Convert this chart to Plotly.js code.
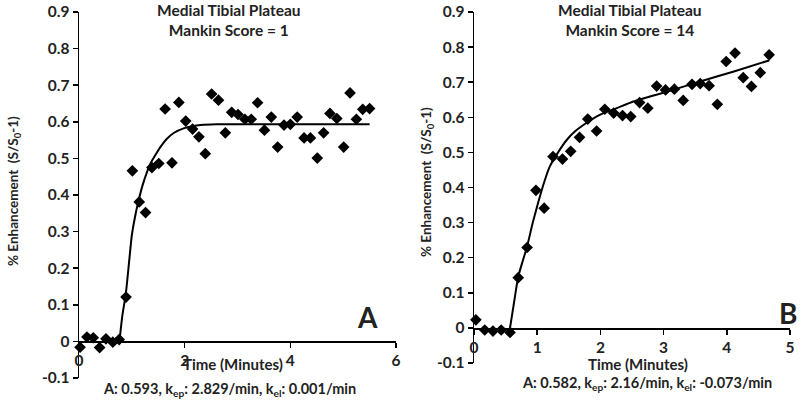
<!DOCTYPE html>
<html>
<head>
<meta charset="utf-8">
<script src="https://cdn.plot.ly/plotly-3.0.1.min.js"></script>
<style>html,body{margin:0;padding:0;background:#fff;}#chart{width:800px;height:402px;}</style>
</head>
<body>
<div id="chart"></div>
<script>
// Panel A data
const leftTime = [0.02, 0.15, 0.27, 0.39, 0.51, 0.64, 0.76, 0.89, 1.01, 1.14, 1.26, 1.38, 1.51, 1.63, 1.76, 1.89, 2.02, 2.15, 2.27, 2.39, 2.51, 2.64, 2.77, 2.89, 3.01, 3.14, 3.26, 3.38, 3.51, 3.64, 3.76, 3.88, 4.00, 4.13, 4.26, 4.38, 4.51, 4.63, 4.75, 4.88, 5.01, 5.13, 5.25, 5.37, 5.50];
const leftEnh = [-0.016, 0.012, 0.010, -0.017, 0.007, -0.002, 0.005, 0.121, 0.466, 0.381, 0.352, 0.475, 0.486, 0.635, 0.488, 0.653, 0.602, 0.580, 0.559, 0.513, 0.676, 0.659, 0.570, 0.626, 0.620, 0.607, 0.607, 0.652, 0.577, 0.613, 0.531, 0.591, 0.593, 0.613, 0.556, 0.556, 0.501, 0.570, 0.623, 0.609, 0.531, 0.679, 0.607, 0.634, 0.636];
const leftFitTime = [0.765, 0.82, 0.886, 0.95, 1.0, 1.06, 1.12, 1.2, 1.28, 1.36, 1.44, 1.55, 1.66, 1.8, 1.98, 2.15, 2.3, 2.6, 3.5, 5.5];
const leftFit = [0, 0.07, 0.13, 0.22, 0.29, 0.34, 0.38, 0.425, 0.46, 0.488, 0.508, 0.533, 0.553, 0.57, 0.582, 0.588, 0.591, 0.593, 0.593, 0.593];

// Panel B data
const rightTime = [0.03, 0.17, 0.30, 0.43, 0.57, 0.70, 0.84, 0.98, 1.11, 1.25, 1.40, 1.53, 1.67, 1.80, 1.94, 2.07, 2.21, 2.35, 2.48, 2.62, 2.75, 2.89, 3.03, 3.17, 3.31, 3.45, 3.58, 3.72, 3.85, 3.99, 4.13, 4.26, 4.39, 4.53, 4.67];
const rightEnh = [0.023, -0.006, -0.009, -0.006, -0.013, 0.143, 0.229, 0.392, 0.341, 0.488, 0.481, 0.503, 0.543, 0.595, 0.561, 0.623, 0.612, 0.605, 0.602, 0.642, 0.626, 0.689, 0.678, 0.680, 0.648, 0.694, 0.696, 0.690, 0.637, 0.759, 0.783, 0.713, 0.688, 0.727, 0.778];
const rightFitTime = [0.57, 0.64, 0.70, 0.77, 0.84, 0.93, 1.02, 1.11, 1.20, 1.33, 1.47, 1.6, 1.73, 1.99, 2.26, 2.52, 3.05, 3.58, 4.10, 4.67];
const rightFit = [0, 0.08, 0.146, 0.19, 0.232, 0.30, 0.36, 0.415, 0.46, 0.50, 0.536, 0.56, 0.578, 0.607, 0.626, 0.645, 0.673, 0.702, 0.730, 0.762];

// Tick labels
const yTickVals = [-0.1, 0, 0.1, 0.2, 0.3, 0.4, 0.5, 0.6, 0.7, 0.8, 0.9];
const yTickText = ['-0.1', '0', '0.1', '0.2', '0.3', '0.4', '0.5', '0.6', '0.7', '0.8', '0.9'];
const leftXTicks = [0, 2, 4, 6];
const rightXTicks = [0, 1, 2, 3, 4, 5];

const titleA = 'Medial Tibial Plateau<br>Mankin Score = 1';
const titleB = 'Medial Tibial Plateau<br>Mankin Score = 14';
const xTitle = 'Time (Minutes)';
const yTitle = '% Enhancement  (S/S<sub>0</sub>-1)';
const paramsA = 'A: 0.593, k<sub>ep</sub>: 2.829/min, k<sub>el</sub>: 0.001/min';
const paramsB = 'A: 0.582, k<sub>ep</sub>: 2.16/min, k<sub>el</sub>: -0.073/min';

const FONT = 'Lato, "Open Sans", sans-serif';
const W = 800, H = 402;
const px = v => v / W;
const py = v => 1 - v / H;

const markerStyle = {symbol: 'diamond', size: 9, color: '#000'};
const lineStyle = {color: '#000', width: 2, shape: 'spline', smoothing: 0.6};

const data = [
  {x: leftTime, y: leftEnh, type: 'scatter', mode: 'markers', marker: markerStyle, xaxis: 'x', yaxis: 'y', cliponaxis: false},
  {x: leftFitTime, y: leftFit, type: 'scatter', mode: 'lines', line: lineStyle, xaxis: 'x', yaxis: 'y'},
  {x: rightTime, y: rightEnh, type: 'scatter', mode: 'markers', marker: markerStyle, xaxis: 'x2', yaxis: 'y2', cliponaxis: false},
  {x: rightFitTime, y: rightFit, type: 'scatter', mode: 'lines', line: lineStyle, xaxis: 'x2', yaxis: 'y2'}
];

const tickFont = {family: FONT, size: 15.5, color: '#222', weight: 'bold'};

function yAxis(top, bottom, anchor) {
  return {
    domain: [py(bottom), py(top)], range: [-0.1, 0.9], anchor: anchor,
    tickvals: yTickVals, ticktext: yTickText, ticks: 'outside', ticklen: 5, tickwidth: 1.5, tickcolor: '#000',
    showline: true, linecolor: '#000', linewidth: 1.5, showgrid: false, zeroline: false,
    tickfont: tickFont, fixedrange: true
  };
}
function xAxis(left, right, range, ticks, zeroPx) {
  return {
    domain: [px(left), px(right)], range: range, anchor: 'free', position: py(zeroPx),
    tickvals: ticks, ticktext: ticks.map(String), ticks: 'outside', ticklen: 5, tickwidth: 1.5, tickcolor: '#000',
    showline: true, linecolor: '#000', linewidth: 1.5, showgrid: false, zeroline: false,
    tickfont: tickFont, fixedrange: true
  };
}

const annFont = (size) => ({family: FONT, size: size, color: '#222', weight: 'bold'});
const ann = (text, x, y, size, extra) => Object.assign({
  text: text, xref: 'paper', yref: 'paper', x: px(x), y: py(y), xanchor: 'center', yanchor: 'middle',
  showarrow: false, font: annFont(size)
}, extra || {});

const layout = {
  width: W, height: H,
  margin: {l: 0, r: 0, t: 0, b: 0},
  paper_bgcolor: '#fff', plot_bgcolor: 'rgba(0,0,0,0)',
  showlegend: false,
  xaxis: xAxis(79, 396, [0, 6], leftXTicks, 341),
  yaxis: yAxis(12, 378, 'x'),
  xaxis2: xAxis(474, 790, [0, 5], rightXTicks, 328),
  yaxis2: yAxis(12, 363, 'x2'),
  annotations: [
    ann(titleA, 229, 20, 15.5),
    ann(titleB, 630, 20, 15.5),
    ann(xTitle, 233, 364, 15),
    ann(xTitle, 638, 364, 15),
    ann(paramsA, 230, 389, 14.5),
    ann(paramsB, 647, 383, 14.5),
    ann(yTitle, 14, 191, 13.5, {textangle: -90}),
    ann(yTitle, 427, 182, 13.5, {textangle: -90}),
    ann('A', 367, 317, 28),
    ann('B', 788, 313, 28)
  ]
};

Plotly.newPlot('chart', data, layout, {displayModeBar: false, staticPlot: true});
</script>
</body>
</html>
